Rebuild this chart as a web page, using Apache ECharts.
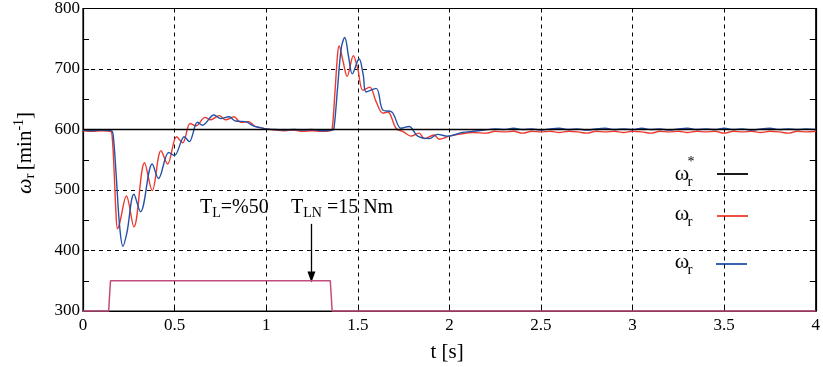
<!DOCTYPE html>
<html><head><meta charset="utf-8">
<script src="https://cdn.jsdelivr.net/npm/echarts@6/dist/echarts.min.js"></script>
<style>html,body{margin:0;padding:0;background:#fff}#c{width:823px;height:367px}</style>
</head><body><div id="c"></div>
<script>
// ---- data ----
const xTickLabels = ['0','0.5','1','1.5','2','2.5','3','3.5','4'];
const yTickLabels = ['300','400','500','600','700','800'];

const tRef = [0, 4];
const vRef = [600, 600];

const tRed = [0,0.05,0.1,0.15,0.16,0.17,0.18,0.188,0.2,0.237,0.278,0.336,0.378,0.426,0.462,0.511,0.544,0.585,0.616,0.667,0.697,0.743,0.779,0.824,0.86,0.905,0.94,0.97,1.0,1.05,1.1,1.15,1.2,1.25,1.3,1.35,1.36,1.375,1.39,1.398,1.42,1.442,1.476,1.5,1.528,1.565,1.6,1.637,1.664,1.709,1.75,1.79,1.835,1.863,1.917,1.944,2.0,2.05,2.13,2.2,
  2.25,2.3,2.35,2.4,2.45,2.5,2.55,2.6,2.65,2.7,2.75,2.8,2.85,2.9,2.95,3.0,3.05,3.1,3.15,3.2,3.25,3.3,3.35,3.4,3.45,3.5,3.55,3.6,3.65,3.7,3.75,3.8,3.85,3.9,3.95,4.0];
const vRed = [598,597,598,597,585,530,462,436,445,490,439,545,499,565,543,588,578,610,606,620,616,623,616,621,612,613,605,603,601,599,598,599,597,598,597,598,600,660,725,738,712,688,722,700,665,670,646,627,629,602,596,589,594,585,591,584,589,592,595,594,
  597,596,597,594,597,596,597,595,597,596,594,597,596,597,595,597,596,594,597,596,597,595,597,596,597,594,597,596,597,595,597,596,594,597,596,597];

const tBlue = [0,0.05,0.1,0.155,0.165,0.18,0.2,0.218,0.24,0.278,0.314,0.378,0.412,0.468,0.499,0.553,0.58,0.625,0.652,0.715,0.752,0.797,0.833,0.888,0.93,0.97,1.0,1.05,1.1,1.15,1.2,1.25,1.3,1.36,1.37,1.39,1.41,1.429,1.45,1.47,1.507,1.53,1.546,1.6,1.637,1.686,1.736,1.78,1.827,1.89,1.935,1.99,2.07,2.13,2.19,
  2.25,2.3,2.35,2.4,2.45,2.5,2.55,2.6,2.65,2.7,2.75,2.8,2.85,2.9,2.95,3.0,3.05,3.1,3.15,3.2,3.25,3.3,3.35,3.4,3.45,3.5,3.55,3.6,3.65,3.7,3.75,3.8,3.85,3.9,3.95,4.0];
const vBlue = [599,598,599,598,590,530,440,407,430,493,464,543,519,562,557,588,580,612,607,624,618,621,614,613,606,603,601,600,599,600,599,600,598,599,602,670,735,752,720,692,717,690,662,668,632,629,602,605,589,585,592,589,595,597,599,
  601,600,602,600,601,599,601,602,600,601,599,601,602,600,601,600,602,600,601,599,601,602,600,601,600,602,600,601,599,601,602,600,601,600,601,600];

const tLoad = [0, 0.14, 0.15, 1.35, 1.36, 4];
const vLoad = [300, 300, 350, 350, 300, 300];

const arrowT = [1.247, 1.247];
const arrowV = [444, 356];

const zip = (a, b) => a.map((x, i) => [x, b[i]]);

const FONT = "'Liberation Serif', 'DejaVu Serif', serif";
const RED = '#ee3a2e', BLUE = '#2352a8', PINK = '#c24d7c';

const chart = echarts.init(document.getElementById('c'), null, {renderer: 'canvas'});

const option = {
  animation: false,
  backgroundColor: '#fff',
  textStyle: {fontFamily: FONT},
  grid: {left: 83, right: 2, top: 6, bottom: 56, show: true, borderColor: '#000', borderWidth: 1.2, backgroundColor: 'transparent'},
  xAxis: [{
    type: 'value', min: 0, max: 4, interval: 0.5,
    axisLine: {show: true, onZero: false, lineStyle: {color: '#000', width: 1.2}},
    axisTick: {show: true, inside: true, length: 6, lineStyle: {color: '#000'}},
    axisLabel: {color: '#000', fontFamily: FONT, fontSize: 17, margin: 6,
      formatter: v => xTickLabels[Math.round(v / 0.5)] ?? ''},
    splitLine: {show: true, lineStyle: {color: '#000', type: [4, 4], width: 1}}
  }],
  yAxis: [{
    type: 'value', min: 300, max: 800, interval: 100,
    axisLine: {show: true, onZero: false, lineStyle: {color: '#000', width: 1.2}},
    axisTick: {show: true, inside: true, length: 6, lineStyle: {color: '#000'}},
    minorTick: {show: true, splitNumber: 2, length: 6, lineStyle: {color: '#000'}},
    axisLabel: {color: '#000', fontFamily: FONT, fontSize: 17, margin: 3,
      formatter: v => yTickLabels[Math.round((v - 300) / 100)] ?? ''},
    splitLine: {show: true, lineStyle: {color: '#000', type: [4, 4], width: 1}}
  }, {
    type: 'value', min: 300, max: 800, interval: 100, position: 'right',
    axisLine: {show: true, onZero: false, lineStyle: {color: '#000', width: 1.2}},
    axisTick: {show: true, inside: true, length: 6, lineStyle: {color: '#000'}},
    minorTick: {show: true, splitNumber: 2, length: 6, lineStyle: {color: '#000'}},
    axisLabel: {show: false},
    splitLine: {show: false}
  }],
  series: [
    {type: 'line', name: 'red', data: zip(tRed, vRed), showSymbol: false, smooth: 0.35,
      lineStyle: {color: RED, width: 1.4}, z: 3},
    {type: 'line', name: 'blue', data: zip(tBlue, vBlue), showSymbol: false, smooth: 0.35,
      lineStyle: {color: BLUE, width: 1.4}, z: 4},
    {type: 'line', name: 'ref', data: zip(tRef, vRef), showSymbol: false,
      lineStyle: {color: '#000', width: 1.3}, z: 5},
    {type: 'line', name: 'load', data: zip(tLoad, vLoad), showSymbol: false, clip: false,
      lineStyle: {color: PINK, width: 1.5}, z: 6,
      markLine: {silent: true, symbol: ['none', 'triangle'], symbolSize: [8, 11], animation: false,
        label: {show: false},
        lineStyle: {color: '#000', width: 1.3, type: 'solid'},
        data: [[{coord: [arrowT[0], arrowV[0]]}, {coord: [arrowT[1], arrowV[1]]}]]}}
  ],
  graphic: [
    // y-axis name
    {type: 'text', x: 25, y: 153, rotation: Math.PI / 2,
      style: {text: '{w|ω}{s|r} {b|[min}{p|-1}{b|]}', align: 'center', verticalAlign: 'middle', fill: '#000',
        rich: {
          w: {fontFamily: FONT, fontSize: 22, fontStyle: 'italic', lineHeight: 26, verticalAlign: 'middle'},
          s: {fontFamily: FONT, fontSize: 15, lineHeight: 14, verticalAlign: 'bottom'},
          b: {fontFamily: FONT, fontSize: 21, lineHeight: 26, verticalAlign: 'middle'},
          p: {fontFamily: FONT, fontSize: 14, lineHeight: 13, verticalAlign: 'top'}
        }}},
    // x-axis name
    {type: 'text', x: 447, y: 352, style: {text: 't [s]', align: 'center', verticalAlign: 'middle',
      fontFamily: FONT, fontSize: 21, fill: '#000'}},
    // annotation
    {type: 'text', x: 200, y: 208, style: {text: '{a|T}{s|L}{a|=%50}', align: 'left', verticalAlign: 'middle', fill: '#000',
      rich: {a: {fontFamily: FONT, fontSize: 20, lineHeight: 24, verticalAlign: 'middle'},
             s: {fontFamily: FONT, fontSize: 14, lineHeight: 16, verticalAlign: 'bottom'}}}},
    {type: 'text', x: 291, y: 208, style: {text: '{a|T}{s|LN}{a| =15 Nm}', align: 'left', verticalAlign: 'middle', fill: '#000',
      rich: {a: {fontFamily: FONT, fontSize: 20, lineHeight: 24, verticalAlign: 'middle'},
             s: {fontFamily: FONT, fontSize: 14, lineHeight: 16, verticalAlign: 'bottom'}}}},
    // legend
    {type: 'text', x: 682, y: 174, style: {text: 'ω', align: 'center', verticalAlign: 'middle', fontFamily: FONT, fontSize: 22, fill: '#000'}},
    {type: 'text', x: 690, y: 182, style: {text: 'r', align: 'center', verticalAlign: 'middle', fontFamily: FONT, fontSize: 15, fill: '#000'}},
    {type: 'text', x: 691, y: 162, style: {text: '*', align: 'center', verticalAlign: 'middle', fontFamily: FONT, fontSize: 14, fill: '#000'}},
    {type: 'line', shape: {x1: 717, y1: 174, x2: 748, y2: 174}, style: {stroke: '#000', lineWidth: 1.8}},
    {type: 'text', x: 682, y: 214, style: {text: 'ω', align: 'center', verticalAlign: 'middle', fontFamily: FONT, fontSize: 22, fill: '#000'}},
    {type: 'text', x: 690, y: 222, style: {text: 'r', align: 'center', verticalAlign: 'middle', fontFamily: FONT, fontSize: 15, fill: '#000'}},
    {type: 'line', shape: {x1: 717, y1: 216, x2: 748, y2: 216}, style: {stroke: RED, lineWidth: 1.8}},
    {type: 'text', x: 682, y: 262, style: {text: 'ω', align: 'center', verticalAlign: 'middle', fontFamily: FONT, fontSize: 22, fill: '#000'}},
    {type: 'text', x: 690, y: 270, style: {text: 'r', align: 'center', verticalAlign: 'middle', fontFamily: FONT, fontSize: 15, fill: '#000'}},
    {type: 'line', shape: {x1: 716, y1: 264, x2: 747, y2: 264}, style: {stroke: BLUE, lineWidth: 1.8}}
  ]
};
chart.setOption(option);
</script>
</body></html>
